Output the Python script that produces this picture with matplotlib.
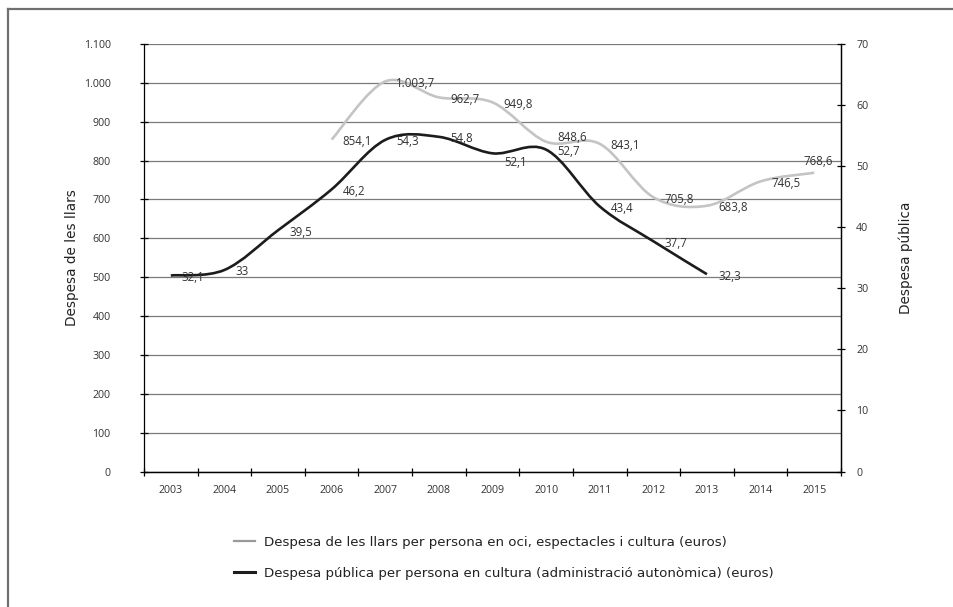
import matplotlib
matplotlib.use("Agg")
import matplotlib.pyplot as plt
from matplotlib.path import Path
from matplotlib.patches import PathPatch
from matplotlib.lines import Line2D
from matplotlib.ticker import FixedLocator, FuncFormatter

# data
years = [str(y) for y in range(2003, 2016)]
llars_years = ['2006', '2007', '2008', '2009', '2010', '2011', '2012', '2013', '2014', '2015']
llars = [854.1, 1003.7, 962.7, 949.8, 848.6, 843.1, 705.8, 683.8, 746.5, 768.6]
public_years = ['2003', '2004', '2005', '2006', '2007', '2008', '2009', '2010', '2011', '2012', '2013']
public = [32.1, 33, 39.5, 46.2, 54.3, 54.8, 52.1, 52.7, 43.4, 37.7, 32.3]

label_llars = 'Despesa de les llars per persona en oci, espectacles i cultura (euros)'
label_public = 'Despesa pública per persona en cultura (administració autonòmica) (euros)'

num_font = 'Open Sans'
txt_font = 'DejaVu Sans'


def fmt(v):
    if v == int(v):
        s = f"{int(v):,}"
    else:
        s = f"{v:,.1f}"
    return s.replace(',', '#').replace('.', ',').replace('#', '.')


def smooth_path(xs, ys):
    # excel-like smoothed line (catmull-rom as cubic bezier)
    pts = list(zip(xs, ys))
    n = len(pts)
    verts = [pts[0]]
    codes = [Path.MOVETO]
    for i in range(n - 1):
        p0 = pts[i - 1] if i > 0 else pts[i]
        p1 = pts[i]
        p2 = pts[i + 1]
        p3 = pts[i + 2] if i + 2 < n else pts[i + 1]
        c1 = (p1[0] + (p2[0] - p0[0]) / 6, p1[1] + (p2[1] - p0[1]) / 6)
        c2 = (p2[0] - (p3[0] - p1[0]) / 6, p2[1] - (p3[1] - p1[1]) / 6)
        verts += [c1, c2, p2]
        codes += [Path.CURVE4] * 3
    return Path(verts, codes)


fig = plt.figure(figsize=(9.54, 6.07), dpi=100)
ax = fig.add_axes([144 / 954, 1 - 471.5 / 607, 697 / 954, 427.5 / 607])
ax2 = ax.twinx()

xs_llars = [years.index(y) for y in llars_years]
xs_public = [years.index(y) for y in public_years]

gray = '#c4c4c4'
dark = '#1c1c1c'

ax.add_patch(PathPatch(smooth_path(xs_llars, llars), facecolor='none',
                       edgecolor=gray, lw=1.9, zorder=3, capstyle='butt'))
ax2.add_patch(PathPatch(smooth_path(xs_public, public), facecolor='none',
                        edgecolor=dark, lw=1.9, zorder=3, capstyle='butt'))

# data labels (mostly to the right of the point)
special = {('l', 9): (4, 11, 'center'), ('l', 4): (11, 4, 'left'),
           ('p', 6): (12, -9, 'left')}
for i, (x, v) in enumerate(zip(xs_llars, llars)):
    dx, dy, ha = special.get(('l', i), (11, -2, 'left'))
    ax.annotate(fmt(v), (x, v), xytext=(dx * 0.72, dy * 0.72),
                textcoords='offset points', ha=ha, va='center',
                fontsize=8.3, family=num_font, color='#333333', zorder=5)
for i, (x, v) in enumerate(zip(xs_public, public)):
    dx, dy, ha = special.get(('p', i), (11, -2, 'left'))
    ax2.annotate(fmt(v), (x, v), xytext=(dx * 0.72, dy * 0.72),
                 textcoords='offset points', ha=ha, va='center',
                 fontsize=8.3, family=num_font, color='#333333', zorder=5)

# axes
ax.set_xlim(-0.5, len(years) - 0.5)
ax.set_ylim(0, 1100)
ax2.set_ylim(0, 70)
ax.set_yticks(range(0, 1101, 100))
ax2.set_yticks(range(0, 71, 10))
ax.yaxis.set_major_formatter(FuncFormatter(lambda v, p: fmt(v)))
ax.xaxis.set_major_locator(FixedLocator([i - 0.5 for i in range(len(years) + 1)]))
ax.xaxis.set_minor_locator(FixedLocator(range(len(years))))
ax.set_xticklabels([], minor=False)
ax.set_xticklabels(years, minor=True)
ax.tick_params(axis='x', which='major', direction='inout', length=6, width=0.9)
ax.tick_params(axis='x', which='minor', length=0, pad=10)
ax.tick_params(axis='y', direction='inout', length=6, width=0.9, pad=21)
ax2.tick_params(axis='y', direction='inout', length=6, width=0.9, pad=8)
for a in (ax, ax2):
    for lab in a.get_yticklabels() + a.get_xticklabels(which='both'):
        lab.set_family(num_font)
        lab.set_fontsize(7.7)
        lab.set_color('#333333')

ax.grid(axis='y', color='#7a7a7a', lw=0.9)
ax.set_axisbelow(True)
for a in (ax, ax2):
    a.spines['top'].set_visible(False)
    for s in a.spines.values():
        s.set_linewidth(0.9)
ax2.spines['left'].set_visible(False)

ax.set_ylabel('Despesa de les llars', family=txt_font, fontsize=9.8,
              color='#222222', labelpad=3)
ax2.set_ylabel('Despesa pública', family=txt_font, fontsize=9.8,
               color='#222222', labelpad=22)

# legend
handles = [Line2D([], [], color='#9a9a9a', lw=1.6),
           Line2D([], [], color=dark, lw=2.2)]
fig.legend(handles, [label_llars, label_public], loc='center left',
           bbox_to_anchor=(222 / 954, 1 - 558 / 607), frameon=False,
           prop={'family': txt_font, 'size': 9.6}, handlelength=1.55,
           handletextpad=0.7, labelspacing=1.35, labelcolor='#222222')

# outer frame (top and left only)
fig.add_artist(Line2D([8.5 / 954, 8.5 / 954], [0, 1 - 8.5 / 607],
                      transform=fig.transFigure, color='#707070', lw=1.6))
fig.add_artist(Line2D([8.5 / 954, 1], [1 - 8.5 / 607, 1 - 8.5 / 607],
                      transform=fig.transFigure, color='#707070', lw=1.6))

fig.savefig('out.png', dpi=100)
